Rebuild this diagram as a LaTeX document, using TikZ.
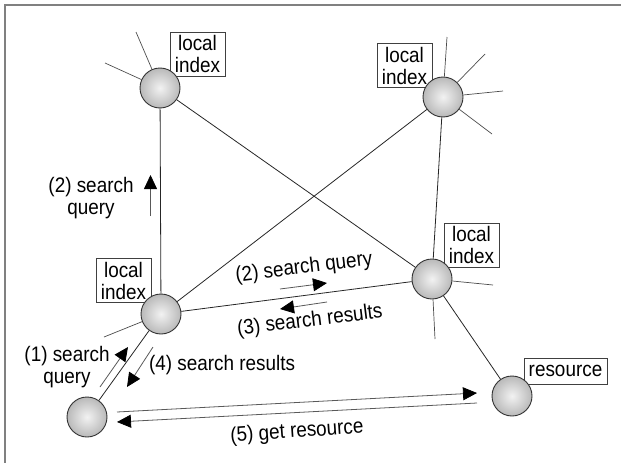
\documentclass[tikz,border=0pt]{standalone}
\usepackage{fontspec}
\setmainfont{Liberation Sans}[FakeStretch=0.9]
\usetikzlibrary{arrows.meta}

\begin{document}
\begin{tikzpicture}[x=1pt,y=-1pt,
  peer/.style={circle, draw=black!80, line width=0.9pt, minimum size=40pt, inner sep=0pt,
               shading=radial, inner color=gray!10, outer color=gray!55},
  tag/.style={draw=black!75, line width=0.7pt, fill=white, align=center,
              inner xsep=5pt, inner ysep=3.3pt, font=\fontsize{21}{22}\selectfont},
  txt/.style={align=center, inner sep=0pt, font=\fontsize{21}{22}\selectfont},
  link/.style={line width=0.8pt, black!85},
  spoke/.style={line width=0.7pt, black!70},
  msg/.style={line width=0.8pt, black!65,
              -{Triangle[length=14pt,width=13pt,color=black,fill=black]}},
]
\useasboundingbox (0,0) rectangle (621,463);

% frame (only top and left edges fall inside the page)
\draw[gray, line width=1.6pt] (5,463) -- (5,5) -- (621,5);

% labels first, so the peers sit on top of their corners
\node[tag] (tA) at (197.5,54)  {local\\index};
\node[tag] (tB) at (404.5,65.5){local\\index};
\node[tag] (tC) at (123.5,280.5){local\\index};
\node[tag] (tD) at (471.5,245) {local\\index};
\node[tag, text height=15pt, text depth=4.5pt, inner xsep=4.6pt] (tF) at (565.5,371) {resource};

% peers
\node[peer] (A) at (160,88)  {};
\node[peer] (B) at (443,97)  {};
\node[peer] (C) at (161,314) {};
\node[peer] (D) at (432,279) {};
\node[peer] (E) at (87,417)  {};
\node[peer] (F) at (512,396) {};

% overlay links
\draw[link] (A) -- (C);
\draw[link] (A) -- (D);
\draw[link] (C) -- (B);
\draw[link] (C) -- (D);
\draw[link] (B) -- (D);
\draw[link] (D) -- (F);
\draw[link] (C) -- (E);

% links leaving the picture
\coordinate (a1) at (136,32);
\coordinate (a2) at (105,63);
\coordinate (b1) at (447,37);
\coordinate (b2) at (485,54);
\coordinate (b3) at (503,91);
\coordinate (b4) at (492,134);
\coordinate (c1) at (104,337);
\coordinate (d1) at (435,339);
\coordinate (d2) at (493,285);
\foreach \p/\q in {A/a1,A/a2,B/b1,B/b2,B/b3,B/b4,C/c1,D/d1,D/d2}
  \draw[spoke] (\p) -- (\q);

% message arrows
\coordinate (m2s) at (150.5,216);  \coordinate (m2e) at (150.5,175);
\coordinate (q2s) at (280,289);  \coordinate (q2e) at (327,283);
\coordinate (r3s) at (327,302);  \coordinate (r3e) at (280,309);
\coordinate (q1s) at (100,387);  \coordinate (q1e) at (128,347);
\coordinate (r4s) at (153,347);  \coordinate (r4e) at (127,387);
\coordinate (g5s) at (117,412);  \coordinate (g5e) at (477,393);
\coordinate (g5t) at (477,403);  \coordinate (g5f) at (117,422);
\draw[msg] (m2s) -- (m2e);
\draw[msg] (q2s) -- (q2e);
\draw[msg] (r3s) -- (r3e);
\draw[msg] (q1s) -- (q1e);
\draw[msg] (r4s) -- (r4e);
\draw[msg] (g5s) -- (g5e);
\draw[msg] (g5t) -- (g5f);

% message texts
\node[txt] (l2a) at (91,198) {(2) search\\query};
\node[txt, rotate=7] (l2b) at (304,268) {(2) search query};
\node[txt, rotate=7] (l3)  at (310,321) {(3) search results};
\node[txt] (l1) at (67,367) {(1) search\\query};
\node[txt] (l4) at (222,365) {(4) search results};
\node[txt, rotate=4] (l5) at (297,432) {(5) get resource};
\end{tikzpicture}
\end{document}
